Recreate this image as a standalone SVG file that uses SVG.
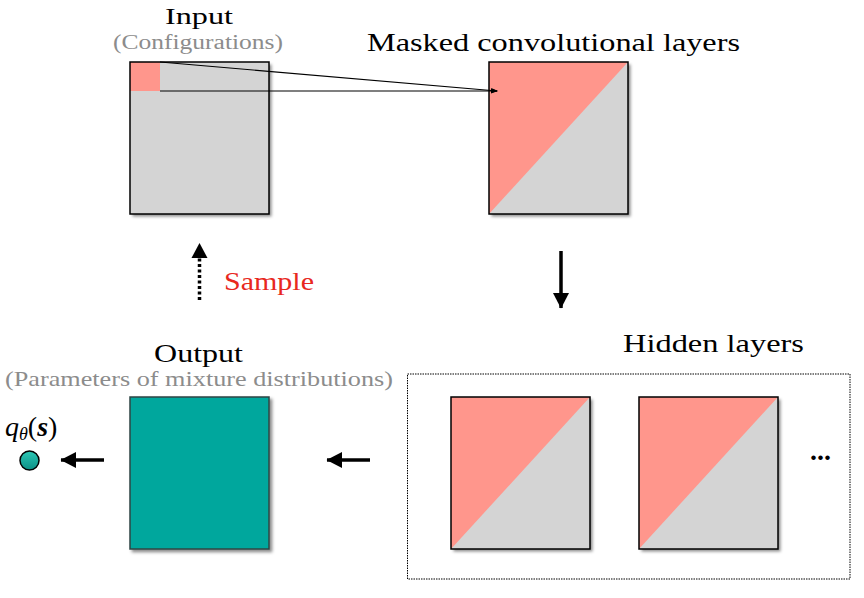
<svg xmlns="http://www.w3.org/2000/svg" width="864" height="598" viewBox="0 0 864 598">
<style>
.t{font-family:"Liberation Serif","DejaVu Serif",serif;fill:#000;text-anchor:start}
.title{font-size:26px}
.sub{font-size:22px;fill:#8c8c8c}
.box{stroke:#000;stroke-width:1.5;fill:none}
.gray{fill:#d4d4d4}
.pink{fill:#ff968c}
.thick{stroke:#000;stroke-width:3.5;fill:none}
.thin{stroke:#000;stroke-width:1.2;fill:none}
</style>
<defs>
<filter id="sh" x="-10%" y="-10%" width="130%" height="130%">
<feDropShadow dx="2.5" dy="2.5" stdDeviation="1.5" flood-color="#000" flood-opacity="0.45"/>
</filter>
<marker id="big" markerWidth="16" markerHeight="16" refX="15" refY="8" orient="auto" markerUnits="userSpaceOnUse">
<path d="M0,0 L15.5,8 L0,16 Z" fill="#000"/>
</marker>
<marker id="small" markerWidth="7" markerHeight="5" refX="6" refY="2.5" orient="auto" markerUnits="userSpaceOnUse">
<path d="M0,0 L7,2.5 L0,5 Z" fill="#000"/>
</marker>
<linearGradient id="tg" x1="0" y1="0" x2="0" y2="1">
<stop offset="0" stop-color="#2cc8b6"/>
<stop offset="1" stop-color="#0c8f85"/>
</linearGradient>
</defs>

<g id="input">
<text class="t" font-size="24" x="165" y="24" textLength="68" lengthAdjust="spacingAndGlyphs">Input</text>
<text class="t sub" style="font-size:20px" x="113" y="49" textLength="170" lengthAdjust="spacingAndGlyphs">(Configurations)</text>
<g filter="url(#sh)">
<rect class="gray" x="130" y="62" width="139" height="152"/>
</g>
<rect class="pink" x="130" y="62" width="30" height="29"/>
<rect class="box" x="130" y="62" width="139" height="152"/>
</g>

<g id="masked">
<text class="t title" x="367" y="51" textLength="373" lengthAdjust="spacingAndGlyphs">Masked convolutional layers</text>
<g filter="url(#sh)">
<rect class="gray" x="489" y="62" width="139" height="152"/>
</g>
<polygon class="pink" points="489,62 628,62 489,214"/>
<rect class="box" x="489" y="62" width="139" height="152"/>
</g>

<g id="hidden">
<text class="t title" x="623" y="352" textLength="181" lengthAdjust="spacingAndGlyphs">Hidden layers</text>
<rect x="407.5" y="374" width="442.5" height="205" fill="none" stroke="#000" stroke-width="1" stroke-dasharray="1.5,1"/>
<g filter="url(#sh)">
<rect class="gray" x="451" y="397" width="139" height="152"/>
<rect class="gray" x="639" y="397" width="139" height="152"/>
</g>
<polygon class="pink" points="451,397 590,397 451,549"/>
<rect class="box" x="451" y="397" width="139" height="152"/>
<polygon class="pink" points="639,397 778,397 639,549"/>
<rect class="box" x="639" y="397" width="139" height="152"/>
<text class="t" x="810" y="460" font-size="28" font-weight="bold" textLength="21" lengthAdjust="spacingAndGlyphs">...</text>
</g>

<g id="output">
<text class="t title" x="154" y="362" textLength="89" lengthAdjust="spacingAndGlyphs">Output</text>
<text class="t sub" x="5" y="386" textLength="388" lengthAdjust="spacingAndGlyphs">(Parameters of mixture distributions)</text>
<rect x="130" y="397" width="139" height="152" fill="#00a79d" stroke="#2b4644" stroke-width="1.5" filter="url(#sh)"/>
</g>

<g id="result">
<text class="t" x="5" y="436" font-size="28"><tspan font-style="italic">q</tspan><tspan font-style="italic" font-size="18" dy="4">θ</tspan><tspan dy="-4">(</tspan><tspan font-style="italic" font-weight="bold">s</tspan><tspan>)</tspan></text>
<ellipse cx="29.5" cy="460.5" rx="9.5" ry="9.5" fill="url(#tg)" stroke="#000" stroke-width="1.5"/>
</g>

<g id="sample">
<text class="t title" x="224" y="290" style="fill:#e8281e" textLength="90" lengthAdjust="spacingAndGlyphs">Sample</text>
</g>

<g id="connectors">
<line class="thin" x1="160" y1="62" x2="497" y2="91" marker-end="url(#small)"/>
<line class="thin" x1="160" y1="91" x2="497" y2="91" marker-end="url(#small)"/>
<line class="thick" x1="561" y1="251" x2="561" y2="308" marker-end="url(#big)"/>
<line class="thick" x1="370" y1="460" x2="327" y2="460" marker-end="url(#big)"/>
<line class="thick" x1="104" y1="460" x2="61" y2="460" marker-end="url(#big)"/>
<line x1="199.5" y1="300" x2="199.5" y2="258" stroke="#000" stroke-width="3.5" stroke-dasharray="3,2.5"/>
<path d="M191.5,258 L207.5,258 L199.5,243 Z" fill="#000"/>
</g>
</svg>
